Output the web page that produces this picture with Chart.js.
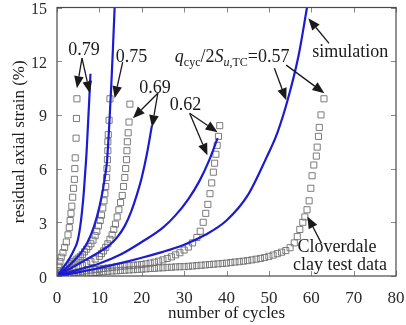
<!DOCTYPE html>
<html><head><meta charset="utf-8">
<script src="https://cdn.jsdelivr.net/npm/chart.js@4"></script>
<style>html,body{margin:0;padding:0;background:#fff;overflow:hidden}</style>
</head><body>
<canvas id="c" width="406" height="325"></canvas>
<script>
// ---------- data (cycles, residual axial strain %) ----------
const xTicks = [0,10,20,30,40,50,60,70,80];
const yTicks = [0,3,6,9,12,15];

// Cloverdale clay test data
const test079Cycles = [0,0.2,0.4,0.7,1.0,1.4,1.8,2.2,2.6,2.9,3.1,3.3,3.5,3.7,3.9,4.1,4.2,4.3,4.5,4.6,4.7];
const test079Strain = [0,0.3,0.55,0.8,1.05,1.3,1.6,1.9,2.3,2.7,3.1,3.5,3.9,4.4,4.9,5.4,6.0,6.6,7.7,8.8,9.9];

const test075Cycles = [0,0.5,1,1.5,2,2.5,3,3.5,4,4.5,5,5.5,6,6.5,7,7.5,8,8.5,9,9.4,9.8,10.2,10.5,10.8,11.1,11.3,11.5,11.7,11.8,11.9,12.0,12.0,12.1,12.3,12.5];
const test075Strain = [0,0.1,0.2,0.3,0.4,0.5,0.6,0.7,0.8,0.9,1.0,1.1,1.2,1.35,1.5,1.65,1.8,2.0,2.25,2.5,2.8,3.1,3.4,3.8,4.2,4.6,5.0,5.5,6.0,6.5,7.0,7.5,7.9,8.7,9.9];

const test069Cycles = [0,1,2,3,4,5,6,7,8,9,10,10.5,11,11.5,12,12.5,13,13.4,13.8,14.2,14.6,15.0,15.4,15.7,16.0,16.2,16.4,16.5,16.6,16.8,17.0,17.2];
const test069Strain = [0,0.1,0.2,0.3,0.4,0.5,0.6,0.7,0.8,0.95,1.1,1.25,1.4,1.6,1.8,2.05,2.3,2.6,2.9,3.3,3.7,4.1,4.5,5.0,5.5,6.0,6.5,7.0,7.5,8.0,8.6,9.6];

const test062Cycles = [0,1,2,3,4,5,6,7,8,9,10,11,12,13,14,15,16,17,18,19,20,21,22,23,24,25,26,27,28,29,30,31,32,33,33.8,34.5,35.1,35.6,36.1,36.5,36.9,37.2,37.5,37.8,38.1,38.4];
const test062Strain = [0,0.05,0.1,0.14,0.18,0.22,0.26,0.3,0.33,0.36,0.39,0.42,0.45,0.48,0.51,0.54,0.56,0.58,0.6,0.62,0.64,0.68,0.72,0.77,0.83,0.9,0.98,1.07,1.18,1.3,1.45,1.62,1.85,2.15,2.5,3.0,3.5,4.0,4.6,5.2,5.8,6.3,6.8,7.3,7.8,8.4];

const test057Cycles = [0,1,2,3,4,5,6,7,8,9,10,11,12,13,14,15,16,17,18,19,20,21,22,23,24,25,26,27,28,29,30,31,32,33,34,35,36,37,38,39,40,41,42,43,44,45,46,47,48,49,50,51,52,53,54,55,56,56.7,57.3,58,58.5,59,59.5,59.9,60.2,60.6,61.2,61.4,61.7,61.9,62.3,63];
const test057Strain = [0,0.03,0.06,0.08,0.1,0.12,0.14,0.16,0.18,0.2,0.22,0.24,0.26,0.28,0.29,0.31,0.32,0.34,0.35,0.37,0.38,0.4,0.42,0.43,0.45,0.46,0.48,0.49,0.51,0.52,0.52,0.54,0.56,0.58,0.6,0.62,0.64,0.66,0.68,0.7,0.72,0.75,0.78,0.8,0.83,0.86,0.9,0.94,0.98,1.03,1.1,1.17,1.25,1.33,1.42,1.58,1.85,2.2,2.6,3.0,3.3,3.7,4.2,4.9,5.6,6.2,6.7,7.2,7.8,8.3,9.0,9.9];

// simulation
const sim079Cycles = [0,1,2,3,4,4.9,5.5,5.9,6.3,6.6,7.0,7.3,7.6,7.9];
const sim079Strain = [0,0.3,0.65,1.0,1.45,2.0,2.8,3.6,4.6,5.6,7.0,8.4,9.8,11.3];

const sim075Cycles = [0,2,4,6,8,9.4,10.5,11.3,11.8,12.3,12.8,13.2,13.6];
const sim075Strain = [0,0.4,0.85,1.4,2.3,3.3,4.4,5.5,6.4,8.3,10.6,12.7,15.0];

const sim069Cycles = [0,3,6,9,12,14,16,17.5,18.8,20,21.2,22.4];
const sim069Strain = [0,0.4,0.8,1.2,1.65,2.1,2.8,3.6,4.5,5.5,6.8,8.4];

const sim062Cycles = [0,5,10,15,20,25,28,31,33.6,35.8,37.9];
const sim062Strain = [0,0.35,0.7,1.2,1.9,2.7,3.4,4.3,5.3,6.4,7.7];

const sim057Cycles = [0,5,10,15,20,25,30,35,40,45,49.4,52,54.4,57,59];
const sim057Strain = [0,0.2,0.45,0.72,1.02,1.35,1.75,2.3,3.1,4.5,6.6,8.0,9.8,12.3,15];

// ---------- annotations (data units) ----------
const labels = [
  {text:'0.79', x:6.35, y:12.6},
  {text:'0.75', x:17.6, y:12.2},
  {text:'0.69', x:23.1, y:10.5},
  {text:'0.62', x:30.35, y:9.55},
  {text:'simulation', x:69.2, y:12.5},
  {text:'Cloverdale', x:66.1, y:1.6},
  {text:'clay test data', x:66.8, y:0.6}
];
const arrows = [
  [5.9,12.17, 4.7,10.49], [5.9,12.17, 7.76,10.21],
  [15.5,11.95, 13.6,9.93],
  [23.8,10.21, 17.9,8.81], [23.8,10.21, 22.4,8.31],
  [31.3,9.09, 37.9,8.03], [31.3,9.09, 35.5,6.74],
  [51.3,11.61, 54.1,9.82], [54.1,11.78, 63.1,10.21],
  [64.2,13.0, 59.3,14.4],
  [62.4,1.82, 59.1,3.33]
];
const ratioLabelPos = {x:27.8, y:11.93};

// ---------- build ----------
const SERIF = '"Liberation Serif", "DejaVu Serif", "Times New Roman", serif';
const pts = (xs, ys) => xs.map((x, i) => ({x, y: ys[i]}));
const simStyle = {showLine:true, borderColor:'#1b1bd2', borderWidth:2.2, pointRadius:0, cubicInterpolationMode:'monotone', fill:false};
const testStyle = {showLine:false, pointStyle:'rect', pointRadius:4.3, pointBorderWidth:1, pointBorderColor:'rgba(110,110,110,0.9)', pointBackgroundColor:'rgba(255,255,255,0)'};

const datasets = [
  {label:'sim 0.79', data:pts(sim079Cycles, sim079Strain), ...simStyle},
  {label:'sim 0.75', data:pts(sim075Cycles, sim075Strain), ...simStyle},
  {label:'sim 0.69', data:pts(sim069Cycles, sim069Strain), ...simStyle},
  {label:'sim 0.62', data:pts(sim062Cycles, sim062Strain), ...simStyle},
  {label:'sim 0.57', data:pts(sim057Cycles, sim057Strain), ...simStyle},
  {label:'test 0.79', data:pts(test079Cycles, test079Strain), ...testStyle},
  {label:'test 0.75', data:pts(test075Cycles, test075Strain), ...testStyle},
  {label:'test 0.69', data:pts(test069Cycles, test069Strain), ...testStyle},
  {label:'test 0.62', data:pts(test062Cycles, test062Strain), ...testStyle},
  {label:'test 0.57', data:pts(test057Cycles, test057Strain), ...testStyle}
];

function drawArrow(ctx, x1, y1, x2, y2) {
  const ang = Math.atan2(y2 - y1, x2 - x1);
  const L = 12, W = 4.8;
  const bx = x2 - L * Math.cos(ang), by = y2 - L * Math.sin(ang);
  ctx.beginPath(); ctx.moveTo(x1, y1); ctx.lineTo(bx, by); ctx.stroke();
  ctx.beginPath();
  ctx.moveTo(x2, y2);
  ctx.lineTo(bx + W * Math.sin(ang), by - W * Math.cos(ang));
  ctx.lineTo(bx - W * Math.sin(ang), by + W * Math.cos(ang));
  ctx.closePath(); ctx.fill();
}

const framePlugin = {
  id:'frame',
  afterDatasetsDraw(chart) {
    const {ctx, chartArea:a, scales:{x, y}} = chart;
    ctx.save();
    ctx.strokeStyle = '#8a8a8a'; ctx.lineWidth = 1;
    const T = 5;
    ctx.beginPath();
    xTicks.forEach(v => { const px = Math.round(x.getPixelForValue(v)) + 0.5;
      ctx.moveTo(px, a.bottom); ctx.lineTo(px, a.bottom - T);
      ctx.moveTo(px, a.top); ctx.lineTo(px, a.top + T); });
    yTicks.forEach(v => { const py = Math.round(y.getPixelForValue(v)) + 0.5;
      ctx.moveTo(a.left, py); ctx.lineTo(a.left + T, py);
      ctx.moveTo(a.right, py); ctx.lineTo(a.right - T, py); });
    ctx.stroke();
    ctx.strokeStyle = '#4a4a4a'; ctx.lineWidth = 1.2;
    ctx.strokeRect(a.left, a.top, a.right - a.left, a.bottom - a.top);
    // y tick labels (drawn from the y scale)
    ctx.fillStyle = '#2a2a2a'; ctx.font = '16px ' + SERIF;
    ctx.textAlign = 'right'; ctx.textBaseline = 'alphabetic';
    yTicks.forEach(v => ctx.fillText(String(v), a.left - 10, y.getPixelForValue(v) + 6.5));
    ctx.restore();
  },
  afterDraw(chart) {
    const {ctx, scales:{x, y}} = chart;
    ctx.save();
    ctx.fillStyle = '#1a1a1a'; ctx.strokeStyle = '#1a1a1a'; ctx.lineWidth = 1.3;
    ctx.textAlign = 'center'; ctx.textBaseline = 'middle';
    ctx.font = '18px ' + SERIF;
    labels.forEach(l => ctx.fillText(l.text, x.getPixelForValue(l.x), y.getPixelForValue(l.y)));
    arrows.forEach(r => drawArrow(ctx, x.getPixelForValue(r[0]), y.getPixelForValue(r[1]), x.getPixelForValue(r[2]), y.getPixelForValue(r[3])));
    // q_cyc / 2 S_u,TC = 0.57
    let px = x.getPixelForValue(ratioLabelPos.x);
    const base = y.getPixelForValue(ratioLabelPos.y);
    ctx.textAlign = 'left'; ctx.textBaseline = 'alphabetic';
    const parts = [
      {t:'q', f:'italic 18px ', dy:0},
      {t:'cyc', f:'12px ', dy:4},
      {t:'/2', f:'18px ', dy:0},
      {t:'S', f:'italic 18px ', dy:0},
      {t:'u', f:'italic 12px ', dy:4},
      {t:',TC', f:'12px ', dy:4},
      {t:'=0.57', f:'18px ', dy:0}
    ];
    parts.forEach(p => { ctx.font = p.f + SERIF; ctx.fillText(p.t, px, base + p.dy); px += ctx.measureText(p.t).width; });
    ctx.restore();
  }
};

new Chart(document.getElementById('c'), {
  type:'scatter',
  data:{datasets},
  plugins:[framePlugin],
  options:{
    responsive:false, devicePixelRatio:1, animation:false,
    layout:{padding:{left:0, right:10, top:7.5, bottom:0}},
    plugins:{legend:{display:false}, tooltip:{enabled:false}},
    scales:{
      x:{type:'linear', min:0, max:80,
        afterBuildTicks:s => { s.ticks = xTicks.map(v => ({value:v})); },
        afterFit:s => { s.height = 49; s.paddingLeft = 0; s.paddingRight = 0; },
        grid:{display:false}, border:{display:false},
        ticks:{color:'#2a2a2a', font:{family:SERIF, size:17}, padding:4, maxRotation:0, autoSkip:false},
        title:{display:true, text:'number of cycles', color:'#1a1a1a', font:{family:SERIF, size:17}, padding:{top:0, bottom:1}}
      },
      y:{type:'linear', min:0, max:15,
        afterBuildTicks:s => { s.ticks = yTicks.map(v => ({value:v})); },
        afterFit:s => { s.width = 57; s.paddingTop = 0; s.paddingBottom = 0; },
        grid:{display:false}, border:{display:false},
        ticks:{display:false},
        title:{display:true, text:'residual axial strain (%)', color:'#1a1a1a', font:{family:SERIF, size:17}, padding:{top:9, bottom:0}}
      }
    }
  }
});
</script>
</body></html>
